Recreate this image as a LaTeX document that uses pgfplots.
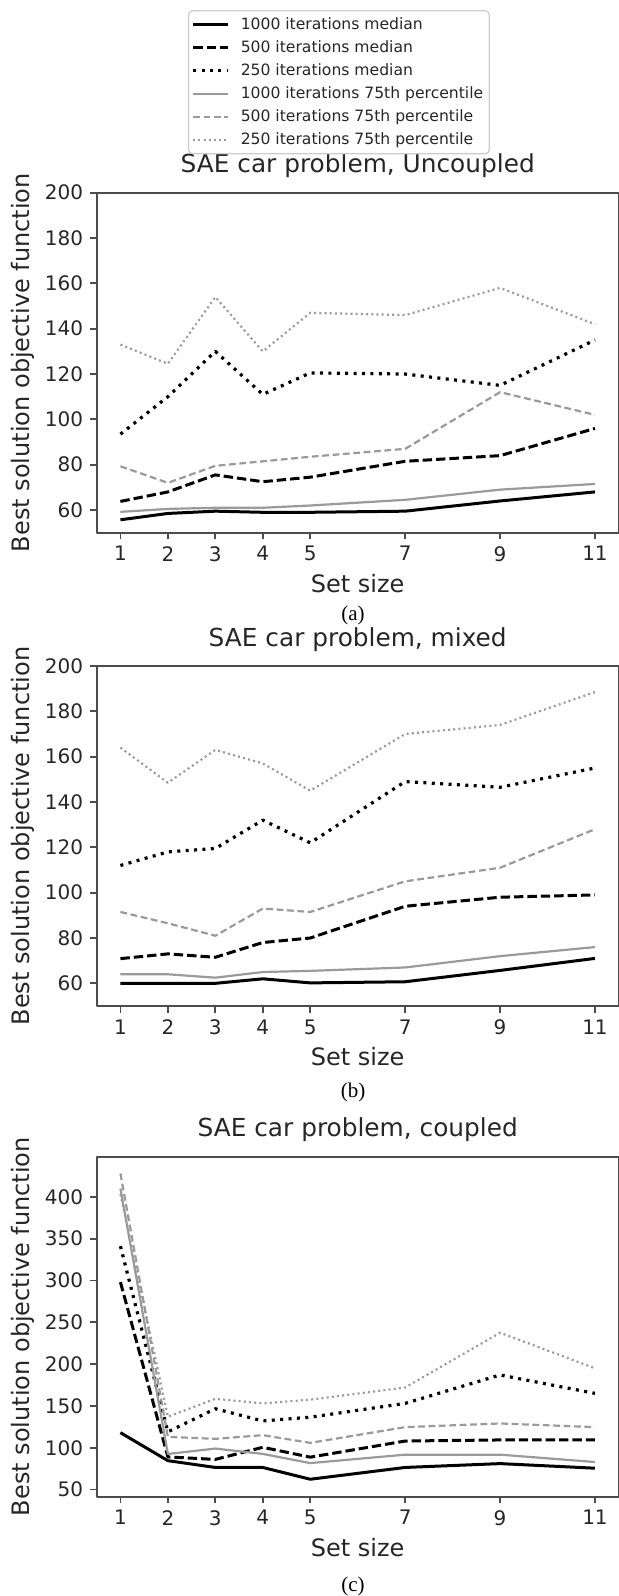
\documentclass[border=0pt]{standalone}
\usepackage{fontspec}
\setmainfont{DejaVu Sans}
\newfontfamily\capfont{Liberation Serif}
\usepackage{pgfplots}
\usepackage{pgfplotstable}
\pgfplotsset{compat=1.18}

\definecolor{lgray}{HTML}{9A9A9A}

% columns: set size, medians (1000/500/250 it.), 75th percentiles (1000/500/250 it.)
\pgfplotstableread{
x  m1000 m500 m250  p1000 p500  p250
1  55.7  63.8 93.5  59.2  79.3  133
2  58.5  68   110   60.5  72    124.5
3  59.5  75.5 130   61    79.5  154
4  59    72.5 111   61    81.5  130
5  59    74.5 120.5 62    83.5  147
7  59.5  81.5 120   64.5  87    146
9  64    84   115   69    112   158
11 68    96   135   71.5  102   142
}\uncoupled

\pgfplotstableread{
x  m1000 m500 m250  p1000 p500  p250
1  60    70.9 112   64    91.5  164
2  60    73   118   64    86.5  148.5
3  60    71.5 119.5 62.5  81    163
4  62    78   132   65    93    157
5  60.2  80   122   65.5  91.5  145
7  60.7  94   149   67    105   170
9  65.7  98   146.5 72    111   174
11 71    99   155   76    128   188.5
}\mixed

\pgfplotstableread{
x  m1000 m500  m250  p1000 p500  p250
1  118   298   341   410   428   403
2  84.5  89    119   92.5  113   137
3  76.4  86    146.6 99    110.6 158.5
4  76.4  100.5 132   92.6  115   153
5  62.3  88.7  136.5 81.6  105.8 157.5
7  76.4  108   153   91.7  124.6 172
9  81    109.3 187   91.7  129   237.5
11 75.5  109.3 165   82.9  124.6 195
}\coupled

\pgfplotsset{
  m1000/.style={black, line width=1.5pt},
  m500/.style={black, line width=1.5pt, dash pattern=on 4.7pt off 2pt},
  m250/.style={black, line width=1.6pt, dash pattern=on 1.5pt off 2.7pt},
  p1000/.style={lgray, line width=1.1pt},
  p500/.style={lgray, line width=1.1pt, dash pattern=on 3.4pt off 1.8pt},
  p250/.style={lgray, line width=1.1pt, dash pattern=on 1pt off 1.6pt},
  sae/.style={
    scale only axis, width=261pt, height=170pt,
    anchor=north west,
    xmin=0.5, xmax=11.5, xtick={1,2,3,4,5,7,9,11},
    tick align=outside, tick pos=left, major tick length=3.3pt,
    axis line style={black!70, line width=1.1pt},
    tick style={black!70, line width=0.9pt},
    ticklabel style={font=\fontsize{10}{12}\selectfont, text=black!85},
    /pgf/number format/assume math mode=true,
    label style={font=\fontsize{12}{14}\selectfont, text=black!85},
    title style={font=\fontsize{12.4}{14}\selectfont, text=black!85,
      at={(axis description cs:0.5,1)}, anchor=base, yshift=4pt},
    xlabel={Set size},
    xlabel style={at={(axis description cs:0.5,0)}, anchor=base, yshift=-29.7pt},
    ylabel={Best solution objective function},
    ylabel style={at={(axis description cs:-0.128,0.5)}, anchor=base},
    line join=round,
  },
}

\begin{document}
\begin{tikzpicture}
\useasboundingbox (0,0) rectangle (309.5pt,-798pt);

\begin{axis}[sae, at={(48.35pt,-96.35pt)},
  title={SAE car problem, Uncoupled},
  ymin=50, ymax=200, ytick={60,80,...,200},
  legend cell align=left,
  legend image code/.code={\draw[#1] (0pt,0pt) -- (17.5pt,0pt);},
  legend style={at={(0.464,1.537)}, anchor=north,
    font=\fontsize{7.8}{9.4}\selectfont, draw=black!20, line width=0.6pt,
    rounded corners=2pt, fill=white, inner xsep=1.5pt, inner ysep=1.25pt,
    row sep=0pt, column sep=4pt,
    nodes={inner xsep=1.5pt, inner ysep=1.5pt, text height=6.5pt,
      text depth=2pt, text=black!85}},
]
\addplot[m1000] table[x=x, y=m1000] {\uncoupled};
\addlegendentry{1000 iterations median}
\addplot[m500] table[x=x, y=m500] {\uncoupled};
\addlegendentry{500 iterations median}
\addplot[m250] table[x=x, y=m250] {\uncoupled};
\addlegendentry{250 iterations median}
\addplot[p1000] table[x=x, y=p1000] {\uncoupled};
\addlegendentry{1000 iterations 75th percentile}
\addplot[p500] table[x=x, y=p500] {\uncoupled};
\addlegendentry{500 iterations 75th percentile}
\addplot[p250] table[x=x, y=p250] {\uncoupled};
\addlegendentry{250 iterations 75th percentile}
\end{axis}

\begin{axis}[sae, at={(48.35pt,-333pt)},
  title={SAE car problem, mixed},
  ymin=50, ymax=200, ytick={60,80,...,200},
]
\addplot[m1000] table[x=x, y=m1000] {\mixed};
\addplot[m500] table[x=x, y=m500] {\mixed};
\addplot[m250] table[x=x, y=m250] {\mixed};
\addplot[p1000] table[x=x, y=p1000] {\mixed};
\addplot[p500] table[x=x, y=p500] {\mixed};
\addplot[p250] table[x=x, y=p250] {\mixed};
\end{axis}

\begin{axis}[sae, at={(48.35pt,-578.35pt)},
  title={SAE car problem, coupled},
  ymin=41.4, ymax=448, ytick={50,100,...,400},
]
\addplot[m1000] table[x=x, y=m1000] {\coupled};
\addplot[m500] table[x=x, y=m500] {\coupled};
\addplot[m250] table[x=x, y=m250] {\coupled};
\addplot[p1000] table[x=x, y=p1000] {\coupled};
\addplot[p500] table[x=x, y=p500] {\coupled};
\addplot[p250] table[x=x, y=p250] {\coupled};
\end{axis}

\node[font=\capfont\fontsize{10.5}{12}\selectfont, anchor=base] at (176.5pt,-310.35pt) {(a)};
\node[font=\capfont\fontsize{10.5}{12}\selectfont, anchor=base] at (176.5pt,-548.5pt) {(b)};
\node[font=\capfont\fontsize{10.5}{12}\selectfont, anchor=base] at (176.5pt,-795.85pt) {(c)};
\end{tikzpicture}
\end{document}
